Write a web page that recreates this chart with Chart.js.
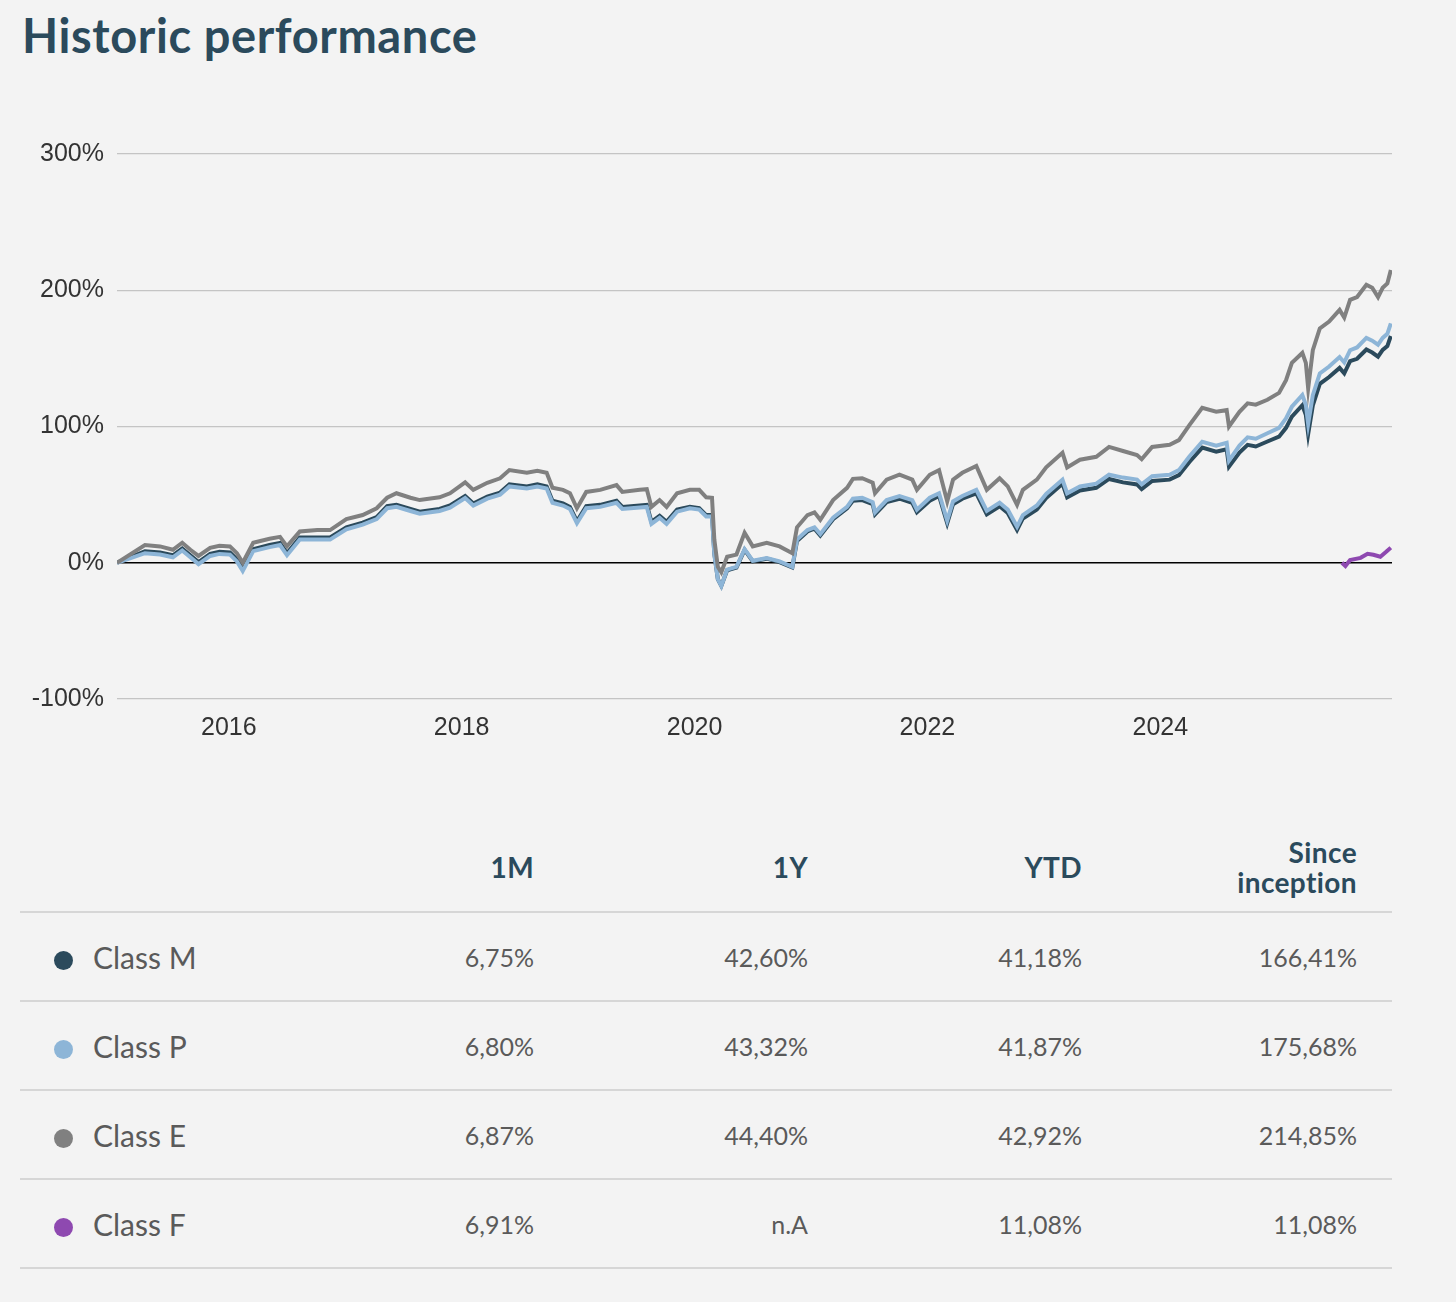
<!DOCTYPE html>
<html>
<head>
<meta charset="utf-8">
<script src="https://cdn.jsdelivr.net/npm/chart.js@4.4.1/dist/chart.umd.min.js"></script>
<style>
    body {
        margin: 0;
        background: #f3f3f3;
        width: 1456px;
        height: 1302px;
        position: relative;
        overflow: hidden;
        font-family: "Lato", "Noto Sans", sans-serif;
    }
    h1 {
        position: absolute;
        left: 22px;
        top: 7px;
        margin: 0;
        font-size: 47px;
        font-weight: 700;
        color: #2b4a5c;
        letter-spacing: 0.6px;
    }
    .chart-box {
        position: absolute;
        left: 20px;
        top: 100px;
        width: 1372px;
        height: 680px;
    }
    table {
        position: absolute;
        left: 20px;
        top: 823px;
        width: 1372px;
        border-collapse: collapse;
        table-layout: fixed;
    }
    th {
        height: 88px;
        text-align: right;
        font-size: 28px;
        font-weight: 700;
        color: #2b4a5c;
        line-height: 30px;
        letter-spacing: 0.4px;
        border-bottom: 2px solid #d6d6d6;
        padding: 0;
    }
    td {
        height: 87px;
        text-align: right;
        font-size: 25px;
        color: #5a5a5a;
        border-bottom: 2px solid #d6d6d6;
        padding: 0;
    }
    td.name {
        text-align: left;
        font-size: 30px;
        color: #5a5a5a;
    }
    .dot {
        display: inline-block;
        width: 19px;
        height: 19px;
        border-radius: 50%;
        margin-left: 34px;
        margin-right: 20px;
        vertical-align: -1px;
    }
    .last {
        padding-right: 35px;
    }
</style>
</head>
<body>
<h1>Historic performance</h1>
<div class="chart-box"><canvas id="perfChart"></canvas></div>
<table id="perfTable">
    <colgroup>
        <col style="width:240px">
        <col style="width:274px">
        <col style="width:274px">
        <col style="width:274px">
        <col style="width:310px">
    </colgroup>
</table>
<script>
const dates = [
    2015.04, 2015.28, 2015.41, 2015.52, 2015.60, 2015.67, 2015.74, 2015.84, 2015.92, 2016.01,
    2016.07, 2016.12, 2016.21, 2016.35, 2016.44, 2016.50, 2016.61, 2016.76, 2016.87, 2017.01,
    2017.15, 2017.27, 2017.36, 2017.44, 2017.56, 2017.64, 2017.81, 2017.90, 2018.03, 2018.10,
    2018.22, 2018.33, 2018.41, 2018.56, 2018.65, 2018.73, 2018.78, 2018.87, 2018.93, 2018.99,
    2019.07, 2019.19, 2019.33, 2019.38, 2019.53, 2019.59, 2019.63, 2019.70, 2019.76, 2019.85,
    2019.96, 2020.04, 2020.10, 2020.15, 2020.17, 2020.20, 2020.23, 2020.28, 2020.36, 2020.43,
    2020.50, 2020.62, 2020.73, 2020.84, 2020.88, 2020.97, 2021.03, 2021.08, 2021.19, 2021.31,
    2021.36, 2021.44, 2021.53, 2021.55, 2021.65, 2021.76, 2021.87, 2021.91, 2022.02, 2022.10,
    2022.17, 2022.22, 2022.30, 2022.42, 2022.51, 2022.62, 2022.69, 2022.77, 2022.82, 2022.94,
    2023.02, 2023.16, 2023.20, 2023.31, 2023.45, 2023.56, 2023.68, 2023.80, 2023.84, 2023.93,
    2024.08, 2024.16, 2024.25, 2024.36, 2024.48, 2024.57, 2024.59, 2024.68, 2024.75, 2024.82,
    2024.92, 2025.02, 2025.08, 2025.13, 2025.22, 2025.25, 2025.27, 2025.31, 2025.37, 2025.45,
    2025.54, 2025.58, 2025.63, 2025.69, 2025.77, 2025.82, 2025.87, 2025.91, 2025.95, 2025.98,
];

const classE = [
    0, 13, 12, 9.5, 14.7, 9.5, 5, 11, 12.5, 12,
    7, 0, 14.7, 17.6, 19, 12, 23, 24, 24, 32,
    35, 40, 47.7, 51, 47.7, 46, 48, 51, 59, 53.5,
    58.7, 62, 68, 66, 67.5, 66, 55, 53.5, 51, 40,
    52, 53.5, 57, 52, 53.5, 54, 41, 46, 41, 51,
    53.5, 53.5, 48, 47.7, 17, -3, -7, 4.4, 6, 22,
    12, 14.7, 12, 7, 26, 35, 37, 31.5, 46, 55,
    61.6, 62, 58.7, 51, 61, 64.6, 61, 53.5, 64.6, 68,
    45, 61, 66, 71, 53.5, 62, 56, 42.5, 53.5, 61,
    70, 80.7, 70, 75.6, 77.8, 85, 82, 79, 76, 85,
    86.6, 90, 101, 113.7, 110.8, 112, 100, 110.8, 117, 116,
    119.6, 124.7, 134, 146.7, 154, 146.7, 128, 156, 172, 177,
    185.6, 180, 193, 195, 204, 201.8, 195, 201.8, 205, 214.85,
];

const classP = [
    0, 7, 6, 4, 9, 4, -1, 5, 6.5, 6,
    1, -6, 8.5, 11.5, 13, 5.5, 17, 17, 17, 24.5,
    28, 32, 40, 41, 38, 36, 38, 40.5, 47.5, 42,
    47, 50, 56, 54.5, 56, 54.5, 44, 42, 39.5, 29,
    40, 41, 44, 39.5, 40.5, 41, 28.5, 33, 28.5, 37.5,
    40, 39, 34, 34, 6, -12, -17, -5, -3, 10,
    1.5, 3.5, 1, -3, 17, 24, 26, 21, 33, 41,
    47, 47.7, 44.5, 37, 46, 49, 46, 39, 47.7, 51,
    31, 45, 49, 53.5, 38, 44, 39, 26.4, 35, 42,
    50.5, 61, 51, 56, 58, 64.6, 62.5, 61, 57.5, 63.5,
    64.6, 68, 78, 88.8, 86, 88, 75, 86, 92, 91,
    95, 99, 106, 114.5, 123, 116, 102, 123, 139, 144,
    151, 147, 156, 158, 165, 163, 160, 165, 168, 175.68,
];

const classM = [
    0, 8.5, 7.5, 5.5, 10.5, 5.5, 0.5, 6.5, 8, 7.5,
    2.5, -4.5, 10, 13, 14.5, 7, 18.5, 18.5, 18.5, 26,
    29.5, 33.5, 41.5, 42.5, 39.5, 37.5, 39.5, 42, 49, 43.5,
    48.5, 51.5, 57.5, 56, 57.5, 56, 45.5, 43.5, 41, 30.5,
    41.5, 42.5, 45.5, 41, 42, 42.5, 30, 34.5, 30, 39,
    41, 40, 35, 35, 6.5, -12, -17, -5.5, -3.5, 9.5,
    1, 3, 0.5, -3.5, 16, 23, 25, 20, 32, 40,
    45.5, 46, 43, 35.5, 44.5, 47, 44, 37, 45.5, 49,
    29, 43, 47, 51, 35.5, 41.5, 36.5, 24, 32.5, 39,
    47.5, 58, 48, 53, 55, 61.5, 59, 57.5, 54, 60,
    61, 64.3, 74, 84.5, 81.5, 83.3, 70.5, 80.8, 86.5, 85.3,
    89, 92.5, 99, 107.3, 115.6, 108.5, 94.5, 115.5, 131.3, 136.3,
    143, 139, 148, 149.7, 156.5, 154.3, 151.2, 156.2, 159, 166.41,
];

const datesF = [2025.56, 2025.59, 2025.63, 2025.72, 2025.78, 2025.83, 2025.89, 2025.94, 2025.98];
const classF = [0, -2.4, 2, 3.6, 6.6, 5.9, 4.4, 8, 11.08];

const yearTicks = [2016, 2018, 2020, 2022, 2024];
const percentTicks = [-100, 0, 100, 200, 300];

const classNames = ["Class M", "Class P", "Class E", "Class F"];
const classColors = ["#2b4a5c", "#8db5d7", "#808080", "#8e49b0"];
const periodLabels = ["1M", "1Y", "YTD", "Since<br>inception"];
const oneMonth = ["6,75%", "6,80%", "6,87%", "6,91%"];
const oneYear = ["42,60%", "43,32%", "44,40%", "n.A"];
const yearToDate = ["41,18%", "41,87%", "42,92%", "11,08%"];
const sinceInception = ["166,41%", "175,68%", "214,85%", "11,08%"];

const toPoints = (xs, ys) => xs.map((x, i) => ({ x: x, y: ys[i] }));

const line = (label, xs, ys, color) => ({
    label: label,
    data: toPoints(xs, ys),
    borderColor: color,
    backgroundColor: color,
    borderWidth: 4,
    pointRadius: 0,
    tension: 0,
    fill: false,
});

const tickFont = { family: "'Liberation Sans', Arial, sans-serif", size: 25 };

const ctx = document.getElementById("perfChart").getContext("2d");
new Chart(ctx, {
    type: "line",
    data: {
        datasets: [
            line("Class F", datesF, classF, classColors[3]),
            line("Class E", dates, classE, classColors[2]),
            line("Class P", dates, classP, classColors[1]),
            line("Class M", dates, classM, classColors[0]),
        ],
    },
    options: {
        responsive: true,
        maintainAspectRatio: false,
        animation: false,
        layout: { padding: { top: 54, right: 0, bottom: 21, left: 0 } },
        plugins: {
            legend: { display: false },
            tooltip: { enabled: false },
        },
        scales: {
            x: {
                type: "linear",
                min: 2015.04,
                max: 2025.99,
                afterBuildTicks: (axis) => {
                    axis.ticks = yearTicks.map((v) => ({ value: v }));
                },
                afterFit: (axis) => {
                    axis.height = 60;
                },
                grid: { display: false, drawTicks: false },
                border: { display: false },
                ticks: {
                    padding: 14,
                    maxRotation: 0,
                    autoSkip: false,
                    color: "#333",
                    font: tickFont,
                    callback: (v) => String(v),
                },
            },
            y: {
                min: -100,
                max: 300,
                afterBuildTicks: (axis) => {
                    axis.ticks = percentTicks.map((v) => ({ value: v }));
                },
                afterFit: (axis) => {
                    axis.width = 97;
                },
                border: { display: false },
                grid: {
                    drawTicks: false,
                    color: (c) => (c.tick && c.tick.value === 0 ? "#000" : "#c4c4c4"),
                    lineWidth: (c) => (c.tick && c.tick.value === 0 ? 1.5 : 1.2),
                },
                ticks: {
                    padding: 13,
                    color: "#333",
                    font: tickFont,
                    callback: (v) => v + "%",
                },
            },
        },
    },
});

const table = document.getElementById("perfTable");
let html = "<thead><tr><th></th>";
periodLabels.forEach((p, i) => {
    html += `<th class="${i === 3 ? "last" : ""}">${p}</th>`;
});
html += "</tr></thead><tbody>";
for (let i = 0; i < classNames.length; i++) {
    html += "<tr>";
    html += `<td class="name"><span class="dot" style="background:${classColors[i]}"></span>${classNames[i]}</td>`;
    html += `<td>${oneMonth[i]}</td>`;
    html += `<td>${oneYear[i]}</td>`;
    html += `<td>${yearToDate[i]}</td>`;
    html += `<td class="last">${sinceInception[i]}</td>`;
    html += "</tr>";
}
html += "</tbody>";
table.innerHTML += html;
</script>
</body>
</html>
